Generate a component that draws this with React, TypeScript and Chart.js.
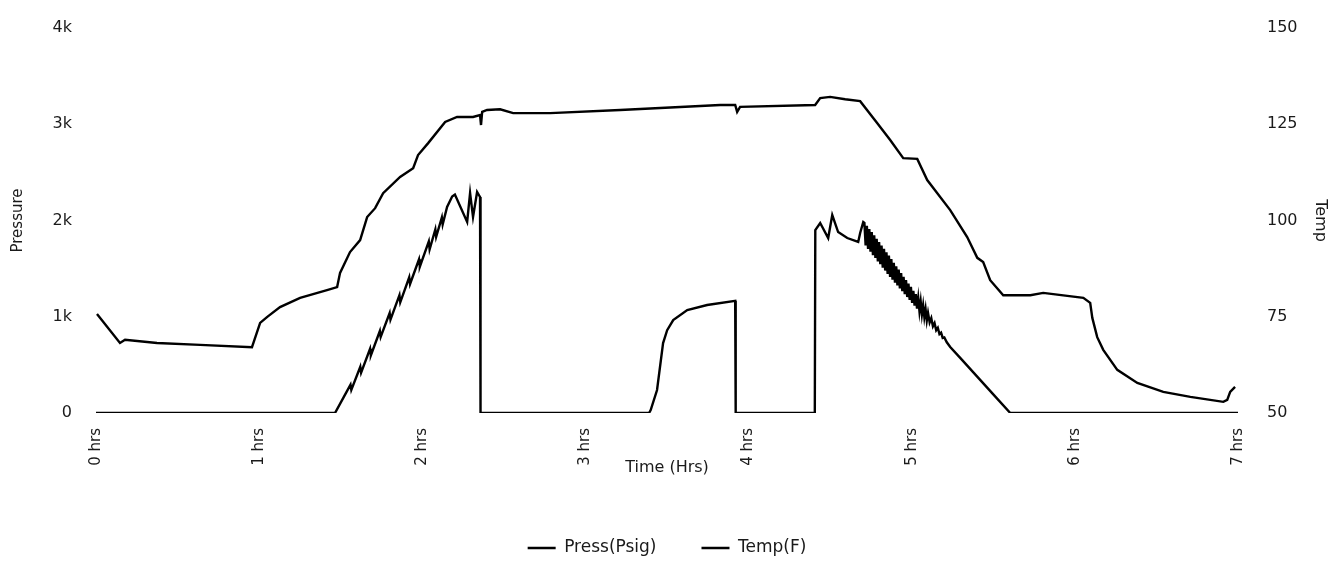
import React, { useEffect, useRef } from "react";
import { Chart, registerables } from "chart.js";

Chart.register(...registerables);

const seriesLabels = ["Press(Psig)", "Temp(F)"];
const xTitle = "Time (Hrs)";
const yLeftTitle = "Pressure";
const yRightTitle = "Temp";

// Pressure series (hours, psig)
const pressTime = [
  0, 1.465, 1.52, 1.56, 1.565, 1.62, 1.625, 1.68, 1.685, 1.74, 1.745, 1.8, 1.805, 1.86, 1.865,
  1.92, 1.925, 1.98, 1.985, 2.04, 2.045, 2.08, 2.085, 2.12, 2.125, 2.152, 2.183, 2.2, 2.275,
  2.293, 2.311, 2.336, 2.354, 2.357, 3.39, 3.4, 3.439, 3.476, 3.501, 3.538, 3.624, 3.746,
  3.918, 3.921, 4.406, 4.409, 4.439, 4.488, 4.513, 4.549, 4.605, 4.672, 4.684, 4.703,
  4.71, 4.7175, 4.725, 4.7325, 4.74, 4.7475, 4.755, 4.7625, 4.77, 4.7775, 4.785, 4.7925,
  4.8, 4.8075, 4.815, 4.8225, 4.83, 4.8375, 4.845, 4.8525, 4.86, 4.8675, 4.875, 4.8825,
  4.89, 4.8975, 4.905, 4.9125, 4.92, 4.9275, 4.935, 4.9425, 4.95, 4.9575, 4.965, 4.9725,
  4.98, 4.9875, 4.995, 5.0025, 5.01, 5.0175, 5.025, 5.0325, 5.04, 5.0475, 5.055, 5.0625,
  5.07, 5.0775, 5.085, 5.0925, 5.1, 5.11, 5.12, 5.13, 5.14, 5.15, 5.16, 5.17, 5.18, 5.19,
  5.2, 5.215, 5.236, 5.3, 5.4, 5.5, 5.604, 7.0,
];
const pressValues = [
  0, 0, 170, 295, 240, 480, 420, 667, 600, 852, 790, 1039, 970, 1225, 1150,
  1410, 1340, 1597, 1520, 1783, 1700, 1907, 1830, 2031, 1960, 2140, 2250, 2270, 1985,
  2286, 2036, 2296, 2244, 0, 0, 30, 239, 727, 860, 966, 1070, 1122,
  1165, 0, 0, 1900, 1974, 1818, 2057, 1880, 1818, 1777, 1870, 1984,
  1975, 1740, 1945, 1705, 1910, 1675, 1880, 1640, 1845, 1610, 1810, 1575,
  1775, 1545, 1740, 1510, 1705, 1480, 1670, 1445, 1635, 1415, 1600, 1385,
  1560, 1355, 1525, 1325, 1490, 1295, 1455, 1265, 1415, 1235, 1380, 1205,
  1345, 1175, 1310, 1145, 1270, 1115, 1235, 1085, 1195, 1055, 1160, 1025,
  1120, 995, 1080, 960, 1040, 940, 985, 900, 935, 860, 885, 820, 835, 780,
  785, 735, 686, 567, 380, 194, 0, 0,
];

// Temperature series (hours, deg F)
const tempTime = [
  0.006, 0.147, 0.178, 0.374, 0.638, 0.956, 1.006, 1.048, 1.128, 1.251, 1.416, 1.478, 1.496,
  1.557, 1.619, 1.662, 1.711, 1.76, 1.864, 1.944, 1.974, 2.036, 2.14, 2.213, 2.311, 2.354,
  2.36, 2.367, 2.397, 2.477, 2.557, 2.784, 3.213, 3.826, 3.918, 3.93, 3.948, 4.408, 4.439,
  4.5, 4.592, 4.684, 4.788, 4.868, 4.948, 5.034, 5.095, 5.236, 5.34, 5.402, 5.438, 5.481,
  5.561, 5.727, 5.806, 6.052, 6.094, 6.107, 6.137, 6.174, 6.26, 6.383, 6.542, 6.708, 6.91,
  6.934, 6.952, 6.982,
];
const tempValues = [
  75.7, 68.2, 69.0, 68.2, 67.7, 67.1, 73.4, 74.9, 77.5, 79.9, 81.9, 82.7, 86.4,
  91.8, 94.9, 100.9, 103.2, 107.1, 111.3, 113.6, 117.0, 120.1, 125.6, 126.9, 126.9, 127.4,
  124.8, 128.2, 128.7, 128.9, 127.9, 127.9, 128.7, 130.0, 130.0, 128.2, 129.5, 130.0, 131.8,
  132.1, 131.5, 131.0, 125.3, 120.9, 116.2, 116.0, 110.5, 102.7, 95.7, 90.3, 89.2, 84.5,
  80.6, 80.6, 81.2, 79.9, 78.6, 74.7, 69.7, 66.4, 61.2, 57.8, 55.5, 54.2, 52.9,
  53.4, 55.5, 56.8,
];

const FONT = "'DejaVu Sans', sans-serif";
const INK = "#1a1a1a";

export default function App() {
  const ref = useRef<HTMLCanvasElement | null>(null);

  useEffect(() => {
    if (!ref.current) return;
    const pressData = pressTime.map((t, i) => ({ x: t, y: pressValues[i] }));
    const tempData = tempTime.map((t, i) => ({ x: t, y: tempValues[i] }));

    const fitVertical = (s: any) => {
      s.width = 96;
      s.paddingTop = 10;
      s.paddingBottom = 10;
    };

    const chart = new Chart(ref.current, {
      type: "line",
      data: {
        datasets: [
          {
            label: seriesLabels[0],
            data: pressData,
            yAxisID: "yP",
            borderColor: "#000",
            backgroundColor: "#000",
            borderWidth: 2.4,
            pointRadius: 0,
            tension: 0,
            pointStyle: "line",
          },
          {
            label: seriesLabels[1],
            data: tempData,
            yAxisID: "yT",
            borderColor: "#000",
            backgroundColor: "#000",
            borderWidth: 2.4,
            pointRadius: 0,
            tension: 0,
            pointStyle: "line",
          },
        ],
      },
      options: {
        animation: false,
        responsive: false,
        devicePixelRatio: 1,
        layout: { padding: { top: 28, left: 0, right: 0, bottom: 13.5 } },
        plugins: {
          tooltip: { enabled: false },
          legend: {
            position: "bottom",
            labels: {
              usePointStyle: true,
              pointStyleWidth: 28,
              padding: 45,
              color: INK,
              font: { family: FONT, size: 17 },
            },
          },
        },
        scales: {
          x: {
            type: "linear",
            min: 0,
            max: 7,
            grid: { display: false, drawTicks: false },
            border: { display: false },
            ticks: {
              stepSize: 1,
              minRotation: 90,
              maxRotation: 90,
              padding: 15,
              color: INK,
              font: { family: FONT, size: 15 },
              callback: (v: any) => `${v} hrs`,
            },
            title: {
              display: true,
              text: xTitle,
              color: INK,
              font: { family: FONT, size: 16 },
              padding: { top: 0, bottom: 17 },
            },
            afterFit: (s: any) => {
              s.height = 81.5;
            },
          },
          yP: {
            type: "linear",
            position: "left",
            min: 0,
            max: 4000,
            grid: { display: false, drawTicks: false },
            border: { display: false },
            ticks: {
              stepSize: 1000,
              padding: 24,
              color: INK,
              font: { family: FONT, size: 16 },
              callback: (v: any) => (v === 0 ? "0" : `${v / 1000}k`),
            },
            title: {
              display: true,
              text: yLeftTitle,
              color: INK,
              font: { family: FONT, size: 15 },
              padding: { top: 9, bottom: 0 },
            },
            afterFit: fitVertical,
          },
          yT: {
            type: "linear",
            position: "right",
            min: 50,
            max: 150,
            grid: { display: false, drawTicks: false },
            border: { display: false },
            ticks: {
              stepSize: 25,
              padding: 29,
              color: INK,
              font: { family: FONT, size: 16 },
            },
            title: {
              display: true,
              text: yRightTitle,
              color: INK,
              font: { family: FONT, size: 16 },
              padding: { top: 4, bottom: 0 },
            },
            afterFit: fitVertical,
          },
        },
      },
    });
    return () => chart.destroy();
  }, []);

  return (
    <div
      style={{
        position: "fixed",
        left: 0,
        top: 0,
        width: 1334,
        height: 580,
        background: "#fff",
      }}
    >
      <canvas ref={ref} width={1334} height={580} style={{ display: "block" }} />
    </div>
  );
}
